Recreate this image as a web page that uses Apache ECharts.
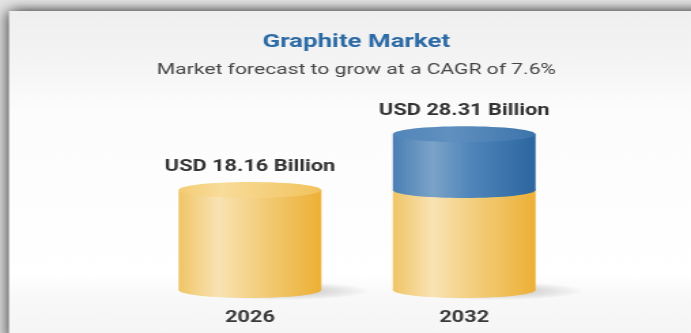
<!DOCTYPE html>
<html>
<head>
<meta charset="utf-8">
<title>Graphite Market</title>
<script src="https://cdn.jsdelivr.net/npm/echarts@6/dist/echarts.min.js"></script>
<style>
  html, body { margin: 0; padding: 0; overflow: hidden; background: #e4e4e4; }
  /* The chart is laid out in a narrower box and widened to the 691px page. */
  #chart { width: 508px; height: 333px; transform: scaleX(1.3602); transform-origin: 0 0; }
</style>
</head>
<body>
<div id="chart"></div>
<script>
// Market size by year, USD billion
const categories = ['2026', '2032'];
const marketSize = [18.16, 28.31];
const baseValue = marketSize[0];

const titleText = 'Graphite Market';
const subtitleText = 'Market forecast to grow at a CAGR of 7.6%';

const BAR_W = 105;
const CAP_RY = 8;
const FONT = 'Roboto, "Noto Sans", Arial, sans-serif';

const G = echarts.graphic;
const hGrad = stops => new G.LinearGradient(0, 0, 1, 0, stops.map(c => ({ offset: c[0], color: c[1] })));

const gold = {
  body: hGrad([[0, '#f0c566'], [0.28, '#f9e3b4'], [0.55, '#f3cf80'], [1, '#edb035']]),
  cap: hGrad([[0, '#f3cd74'], [0.3, '#f8dc9a'], [1, '#f1c35d']])
};
const blue = {
  body: hGrad([[0, '#4a7fb5'], [0.28, '#7ba3c8'], [0.55, '#4f85ba'], [1, '#2c669e']]),
  cap: hGrad([[0, '#5285b9'], [0.4, '#6190c0'], [1, '#3c74ab']])
};

// One cylinder slice between two pixel heights
function slice(cx, yBottom, yTop, palette, withCap) {
  const rx = BAR_W / 2;
  const parts = [
    { type: 'ellipse', shape: { cx: cx, cy: yBottom, rx: rx, ry: CAP_RY }, style: { fill: palette.body } },
    { type: 'rect', shape: { x: cx - rx, y: yTop, width: BAR_W, height: yBottom - yTop }, style: { fill: palette.body } }
  ];
  if (withCap) {
    parts.push({ type: 'ellipse', shape: { cx: cx, cy: yTop, rx: rx, ry: CAP_RY }, style: { fill: palette.cap } });
  }
  return parts;
}

function renderCylinder(params, api) {
  const idx = api.value(0);
  const total = api.value(1);
  const [cx, yTop] = api.coord([idx, total]);
  const y0 = api.coord([idx, 0])[1];
  const lower = Math.min(total, baseValue);
  const yBase = api.coord([idx, lower])[1];
  const hasGrowth = total > baseValue;

  const children = [
    // soft floor shadow to the lower right
    {
      type: 'circle', x: cx + BAR_W * 0.22, y: y0 + 1, scaleY: 0.14,
      shape: { cx: 0, cy: 0, r: BAR_W * 0.62 },
      style: {
        fill: new G.RadialGradient(0.5, 0.5, 0.5, [
          { offset: 0, color: 'rgba(0,0,0,0.22)' },
          { offset: 0.6, color: 'rgba(0,0,0,0.10)' },
          { offset: 1, color: 'rgba(0,0,0,0)' }
        ])
      }
    }
  ];
  children.push(...slice(cx, y0, yBase, gold, !hasGrowth));
  if (hasGrowth) {
    children.push(...slice(cx, yBase, yTop, blue, true));
  }
  children.push({
    type: 'text', x: cx, y: yTop - 23,
    style: {
      text: 'USD ' + total.toFixed(2) + ' Billion',
      align: 'center', verticalAlign: 'middle',
      fontFamily: FONT, fontSize: 16, fontWeight: 'bold', fill: '#333333'
    }
  });
  return { type: 'group', children: children };
}

const chart = echarts.init(document.getElementById('chart'), null, { renderer: 'canvas' });
chart.setOption({
  animation: false,
  backgroundColor: '#e4e4e4',
  graphic: [
    {
      type: 'rect', z: -10, silent: true,
      shape: { x: 6.6, y: 11, width: 700, height: 330 },
      style: {
        fill: new G.LinearGradient(0, 0, 0, 1, [
          { offset: 0, color: '#efefef' },
          { offset: 0.15, color: '#f4f4f4' },
          { offset: 0.3, color: '#fcfcfc' },
          { offset: 0.8, color: '#ffffff' },
          { offset: 0.87, color: '#f8f8f8' },
          { offset: 1, color: '#f5f5f5' }
        ]),
        shadowBlur: 12,
        shadowColor: 'rgba(0,0,0,0.9)'
      }
    },
    {
      type: 'text', x: 262, y: 42, z: 5,
      style: {
        text: titleText, align: 'center', verticalAlign: 'middle',
        fontFamily: FONT, fontSize: 19, fontWeight: 'bold', fill: '#2d6ba6'
      }
    },
    {
      type: 'text', x: 262, y: 70, z: 5,
      style: {
        text: subtitleText, align: 'center', verticalAlign: 'middle',
        fontFamily: FONT, fontSize: 15.5, fill: '#454545'
      }
    }
  ],
  grid: { left: 105, right: 88, top: 125, bottom: 43 },
  xAxis: {
    type: 'category',
    data: categories,
    axisLine: { show: false },
    axisTick: { show: false },
    axisLabel: {
      margin: 20,
      fontFamily: FONT, fontSize: 16, fontWeight: 'bold', color: '#3a3a3a'
    }
  },
  yAxis: { type: 'value', min: 0, max: 30, show: false },
  series: [
    {
      type: 'custom',
      renderItem: renderCylinder,
      encode: { x: 0, y: 1 },
      data: categories.map((c, i) => [i, marketSize[i]]),
      clip: false
    }
  ]
});
</script>
</body>
</html>
